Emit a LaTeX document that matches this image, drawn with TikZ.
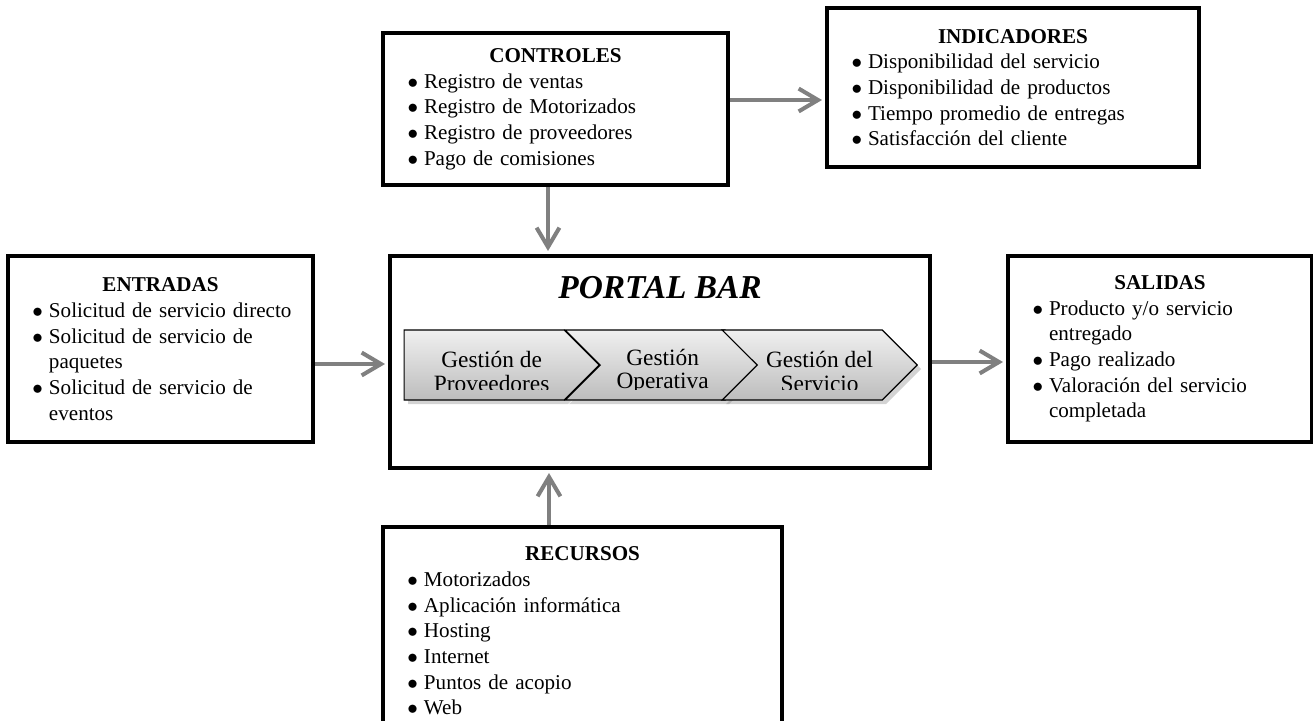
\documentclass[tikz,border=0pt]{standalone}
\usepackage{fontspec}
\setmainfont{Liberation Serif}
\usetikzlibrary{arrows.meta,positioning,shapes.symbols,shadows}
\pgfdeclarelayer{bg}
\pgfsetlayers{bg,main}
\setlength{\parindent}{0pt}

\newcommand{\hdr}[1]{\makebox[\hsize][c]{\textbf{#1}}}
\newcommand{\itm}[1]{\makebox[\hsize][l]{\hspace*{4.9mm}\makebox[3.3mm][l]{$\bullet$}#1}}
\newcommand{\cnt}[1]{\makebox[\hsize][l]{\hspace*{8.2mm}#1}}

\begin{document}
\begin{tikzpicture}[x=0.2mm,y=-0.2mm,
    box/.style={draw, line width=2.3pt, inner sep=0pt, align=left,
      font=\fontsize{12}{14.6}\selectfont},
    flow/.style={draw=gray, line width=2.3pt,
      -{Straight Barb[length=11pt,width=13pt]}, shorten >=0.6mm},
    chev/.style={signal, signal to=east, signal from=west, signal pointer angle=90,
      draw, line width=0.7pt, minimum width=39mm, minimum height=14mm, inner sep=0pt,
      top color=white!94!black, bottom color=white!74!black,
      drop shadow={opacity=0.35, shadow xshift=0.8mm, shadow yshift=-0.8mm},
      anchor=east},
    chevtxt/.style={anchor=center, align=center,
      font=\fontsize{13.3}{13.4}\selectfont, inner sep=0pt}]
  \useasboundingbox (0,0) rectangle (1313,721);
  \clip (0,0) rectangle (1313,721);

  % boxes
  \node[box, text width=69mm, minimum height=30.4mm] (CTRL) at (555.5,109)
    {\hdr{CONTROLES}\\
     \itm{Registro de ventas}\\
     \itm{Registro de Motorizados}\\
     \itm{Registro de proveedores}\\
     \itm{Pago de comisiones}};
  \node[box, text width=74.4mm, minimum height=31.8mm] (IND) at (1013,87.5)
    {\hdr{INDICADORES}\\
     \itm{Disponibilidad del servicio}\\
     \itm{Disponibilidad de productos}\\
     \itm{Tiempo promedio de entregas}\\
     \itm{Satisfacción del cliente}};
  \node[box, text width=61mm, minimum height=37.2mm] (ENT) at (160.5,349)
    {\hdr{ENTRADAS}\\
     \itm{Solicitud de servicio directo}\\
     \itm{Solicitud de servicio de}\\
     \cnt{paquetes}\\
     \itm{Solicitud de servicio de}\\
     \cnt{eventos}};
  \node[box, text width=60.8mm, minimum height=37.2mm] (SAL) at (1160,349)
    {\hdr{SALIDAS}\\
     \itm{Producto y/o servicio}\\
     \cnt{entregado}\\
     \itm{Pago realizado}\\
     \itm{Valoración del servicio}\\
     \cnt{completada}};
  \node[box, text width=79.8mm, minimum height=41.6mm] (REC) at (582.5,631)
    {\hdr{RECURSOS}\\
     \itm{Motorizados}\\
     \itm{Aplicación informática}\\
     \itm{Hosting}\\
     \itm{Internet}\\
     \itm{Puntos de acopio}\\
     \itm{Web}};

  % central process
  \node[box, minimum width=108mm, minimum height=42.4mm] (PB) at (660,362) {};
  \node[font=\fontsize{19}{22}\selectfont\bfseries\itshape] (PBT) at (660,288) {PORTAL BAR};

  \node[chev, signal from=nowhere, path picture={
      \clip ([yshift=2.1mm]path picture bounding box.south west)
        rectangle (path picture bounding box.north east);
      \node[chevtxt] at ([xshift=-2mm,yshift=-1.3mm]path picture bounding box.center)
        {Gestión de\\Proveedores};}] (G1) at (600,365) {};
  \node[chev, path picture={
      \clip ([yshift=2.1mm]path picture bounding box.south west)
        rectangle (path picture bounding box.north east);
      \node[chevtxt] at ([yshift=-1.3mm]path picture bounding box.center)
        {Gestión\\Operativa};}] (G2) at (761,365) {};
  \node[chev, path picture={
      \clip ([yshift=2.1mm]path picture bounding box.south west)
        rectangle (path picture bounding box.north east);
      \node[chevtxt] at ([yshift=-1.3mm]path picture bounding box.center)
        {Gestión del\\Servicio};}] (G3) at (918,365) {};

  % connectors
  \coordinate (c1) at ([yshift=1.8mm]CTRL.east);
  \coordinate (c2) at ([xshift=-1.5mm]CTRL.south);
  \coordinate (c3) at ([yshift=-3mm]ENT.east);
  \coordinate (c4) at ([xshift=-6.7mm]REC.north);
  \begin{pgfonlayer}{bg}
    \draw[flow] (c1) -- (c1 -| IND.west);
    \draw[flow] (c2) -- (c2 |- PB.north);
    \draw[flow] (c3) -- (c3 -| PB.west);
    \draw[flow] (PB.east) -- (PB.east -| SAL.west);
    \draw[flow] (c4) -- (c4 |- PB.south);
  \end{pgfonlayer}
\end{tikzpicture}
\end{document}
